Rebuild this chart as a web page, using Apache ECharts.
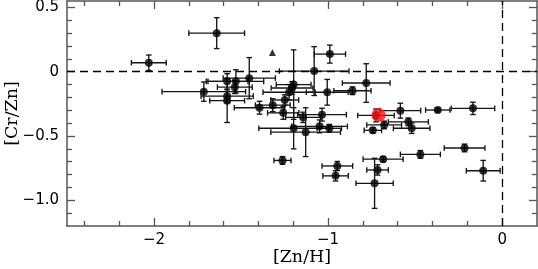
<!DOCTYPE html>
<html><head><meta charset="utf-8">
<script src="https://cdn.jsdelivr.net/npm/echarts@6/dist/echarts.min.js"></script>
<style>html,body{margin:0;padding:0;background:#fff}#c{width:538px;height:269px}</style>
</head><body><div id="c"></div>
<script>
// [Zn/H] values, [Cr/Zn] values and their errors
const znH =     [-2.03,-1.64,-0.99,-1.08,-1.714,-1.58,-1.53,-1.536,-1.58,-1.58,-1.453,-1.394,-1.318,-1.249,-1.258,-1.224,-1.207,-1.198,-1.198,-1.129,-1.144,-1.035,-1.049,-0.993,-1.005,-1.262,-0.947,-0.957,-0.781,-0.86,-0.725,-0.585,-0.37,-0.168,-0.539,-0.678,-0.52,-0.743,-0.216,-0.47,-0.684,-0.716,-0.733,-0.109];
const crZn =    [0.07,0.30,0.137,0.005,-0.155,-0.075,-0.075,-0.12,-0.19,-0.225,-0.05,-0.28,-0.26,-0.22,-0.32,-0.16,-0.127,-0.10,-0.44,-0.47,-0.355,-0.334,-0.425,-0.44,-0.16,-0.69,-0.733,-0.81,-0.088,-0.148,-0.34,-0.303,-0.298,-0.285,-0.39,-0.414,-0.44,-0.456,-0.593,-0.643,-0.68,-0.764,-0.868,-0.77];
const znHErr =  [0.10,0.16,0.09,0.20,0.24,0.12,0.16,0.10,0.15,0.10,0.15,0.145,0.10,0.08,0.09,0.15,0.12,0.10,0.20,0.20,0.10,0.14,0.16,0.07,0.12,0.049,0.088,0.073,0.137,0.107,0.105,0.117,0.07,0.125,0.115,0.10,0.105,0.05,0.117,0.115,0.115,0.062,0.107,0.097];
const crZnErr = [0.06,0.12,0.07,0.19,0.075,0.06,0.09,0.05,0.05,0.17,0.16,0.05,0.05,0.04,0.05,0.06,0.05,0.27,0.16,0.19,0.04,0.05,0.05,0.03,0.10,0.03,0.035,0.04,0.15,0.03,0.05,0.058,0.015,0.048,0.03,0.03,0.04,0.02,0.03,0.03,0.02,0.04,0.195,0.08];
const triangleZnH = [-1.32];
const triangleCrZn = [0.15];
const highlightZnH = [-0.71];
const highlightCrZn = [-0.337];
// axis ticks
const xMajorTicks = [-2, -1, 0];
const xMinorTicks = [-2.4,-2.2,-1.8,-1.6,-1.4,-1.2,-0.8,-0.6,-0.4,-0.2];
const yMajorTicks = [-1.0, -0.5, 0, 0.5];
const yMinorTicks = [-1.1,-0.9,-0.8,-0.7,-0.6,-0.4,-0.3,-0.2,-0.1,0.1,0.2,0.3,0.4];
const X_MIN = -2.5, X_MAX = 0.2, Y_MIN = -1.2, Y_MAX = 0.55;

const frameColor = '#555';
const minus = v => (v < 0 ? '\u2212' : '');
const xFmt = v => minus(v) + Math.abs(v);
const yFmt = v => v === 0 ? '0' : minus(v) + Math.abs(v).toFixed(1);

function xAx(pos, ticks, len, labels, line) {
  return {
    type: 'value', position: pos, min: X_MIN, max: X_MAX,
    splitLine: {show: false},
    axisLine: {show: line, onZero: false, lineStyle: {color: frameColor, width: 1.5}},
    axisTick: {show: true, inside: true, length: len, customValues: ticks, lineStyle: {color: frameColor, width: 1.3}},
    axisLabel: labels ? {show: true, customValues: xMajorTicks, formatter: xFmt, margin: 7,
      fontFamily: 'DejaVu Sans', fontSize: 15, color: '#000'} : {show: false},
    name: labels ? '[Zn/H]' : '', nameLocation: 'middle', nameGap: 22, nameMoveOverlap: false,
    nameTextStyle: {fontFamily: 'DejaVu Serif', fontSize: 17.5, color: '#000'}
  };
}
function yAx(pos, ticks, len, labels, line) {
  return {
    type: 'value', position: pos, min: Y_MIN, max: Y_MAX,
    splitLine: {show: false},
    axisLine: {show: line, onZero: false, lineStyle: {color: frameColor, width: 1.5}},
    axisTick: {show: true, inside: true, length: len, customValues: ticks, lineStyle: {color: frameColor, width: 1.3}},
    axisLabel: labels ? {show: true, customValues: yMajorTicks, formatter: yFmt, margin: 8,
      fontFamily: 'DejaVu Sans', fontSize: 15, color: '#000'} : {show: false},
    name: labels ? '[Cr/Zn]' : '', nameLocation: 'middle', nameGap: 46, nameMoveOverlap: false,
    nameTextStyle: {fontFamily: 'DejaVu Serif', fontSize: 17.5, color: '#000'}
  };
}

const errData = znH.map((x, i) => [x, crZn[i], znHErr[i], crZnErr[i]]);
const ptData = znH.map((x, i) => [x, crZn[i]]);

const chart = echarts.init(document.getElementById('c'), null, {renderer: 'canvas'});
chart.setOption({
  animation: false,
  grid: {left: 67, right: 1, top: 1, bottom: 43, containLabel: false, outerBoundsMode: 'none'},
  xAxis: [
    xAx('bottom', xMajorTicks, 8, true, true),
    xAx('bottom', xMinorTicks, 5, false, false),
    xAx('top', xMajorTicks, 8, false, true),
    xAx('top', xMinorTicks, 5, false, false)
  ],
  yAxis: [
    yAx('left', yMajorTicks, 8, true, true),
    yAx('left', yMinorTicks, 5, false, false),
    yAx('right', yMajorTicks, 8, false, true),
    yAx('right', yMinorTicks, 5, false, false)
  ],
  series: [
    {
      type: 'custom', data: errData, encode: {x: 0, y: 1}, silent: true, z: 2,
      renderItem: function (params, api) {
        const x = api.value(0), y = api.value(1), ex = api.value(2), ey = api.value(3);
        const l = api.coord([x - ex, y]), r = api.coord([x + ex, y]);
        const t = api.coord([x, y + ey]), b = api.coord([x, y - ey]);
        const cap = 2.8;
        const st = {stroke: '#151515', lineWidth: 1.35};
        return {type: 'group', children: [
          {type: 'line', shape: {x1: l[0], y1: l[1], x2: r[0], y2: r[1]}, style: st},
          {type: 'line', shape: {x1: l[0], y1: l[1] - cap, x2: l[0], y2: l[1] + cap}, style: st},
          {type: 'line', shape: {x1: r[0], y1: r[1] - cap, x2: r[0], y2: r[1] + cap}, style: st},
          {type: 'line', shape: {x1: t[0], y1: t[1], x2: b[0], y2: b[1]}, style: st},
          {type: 'line', shape: {x1: t[0] - cap, y1: t[1], x2: t[0] + cap, y2: t[1]}, style: st},
          {type: 'line', shape: {x1: b[0] - cap, y1: b[1], x2: b[0] + cap, y2: b[1]}, style: st}
        ]};
      }
    },
    {
      type: 'scatter', data: ptData, symbol: 'circle', symbolSize: 8, z: 3,
      itemStyle: {color: '#000'},
      markLine: {
        silent: true, symbol: ['none', 'none'], label: {show: false},
        lineStyle: {color: '#000', type: [8, 5], width: 1.3},
        data: [{yAxis: 0}, {xAxis: 0}]
      }
    },
    {
      type: 'scatter', data: triangleZnH.map((x, i) => [x, triangleCrZn[i]]),
      symbol: 'triangle', symbolSize: 7, itemStyle: {color: '#000'}, z: 3
    },
    {
      type: 'scatter', data: highlightZnH.map((x, i) => [x, highlightCrZn[i]]),
      symbol: 'circle', symbolSize: 14, itemStyle: {color: '#ff1010'}, z: 4
    }
  ]
});
</script>
</body></html>
